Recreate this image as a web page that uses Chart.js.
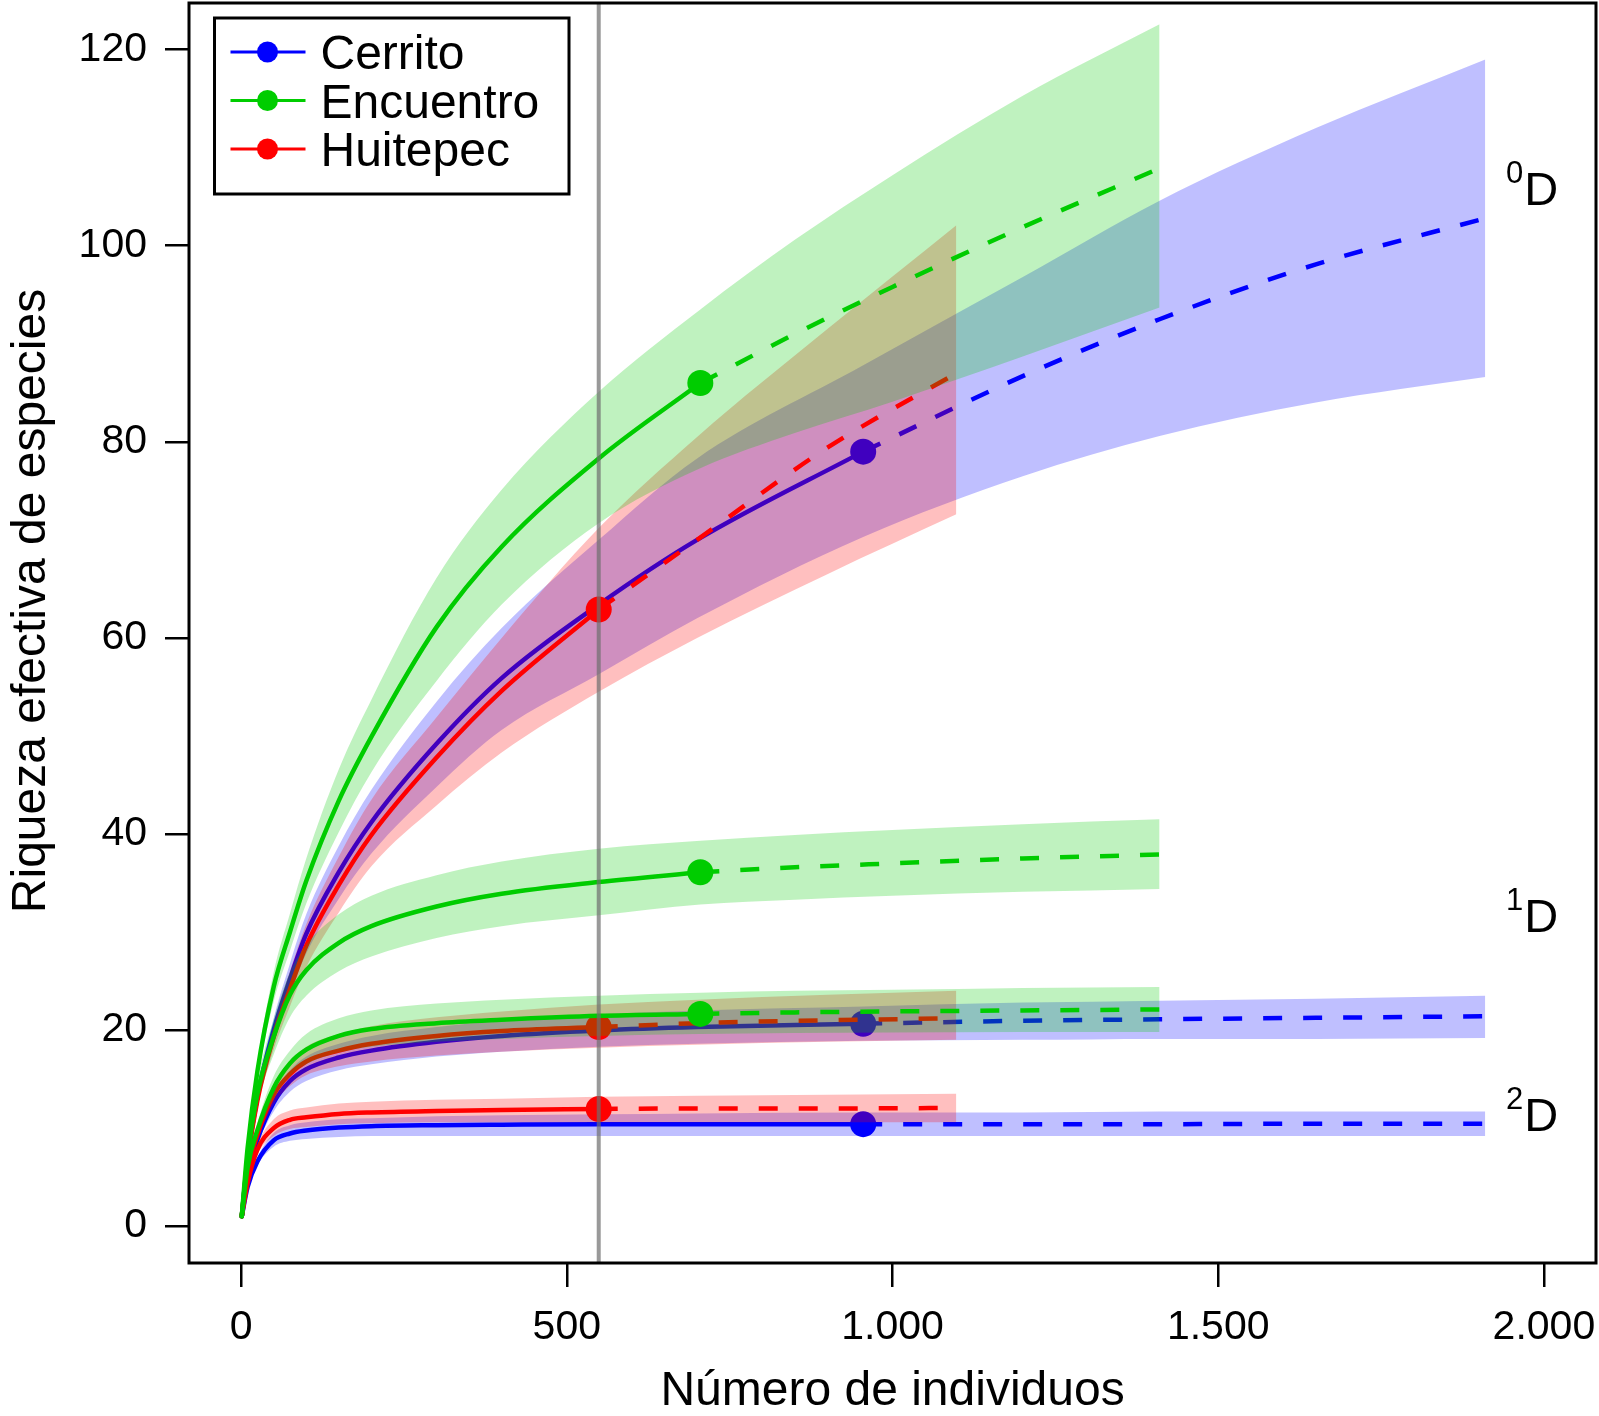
<!DOCTYPE html>
<html>
<head>
<meta charset="utf-8">
<title>Riqueza efectiva de especies</title>
<script src="https://cdn.jsdelivr.net/npm/chart.js@4.4.1/dist/chart.umd.min.js"></script>
<style>
  html, body { margin: 0; padding: 0; background: #fff; }
  canvas { display: block; }
</style>
</head>
<body>
<canvas id="curvas" width="1599" height="1416"></canvas>
<script>
// axis ticks
const xTicks = [0, 500, 1000, 1500, 2000];
const yTicks = [0, 20, 40, 60, 80, 100, 120];

// sites
const siteNames = ['Cerrito', 'Encuentro', 'Huitepec'];
const siteColors = ['#0000FF', '#00CD00', '#FF0000'];
const siteFills = ['rgba(0,0,255,0.25)', 'rgba(0,205,0,0.25)', 'rgba(255,0,0,0.25)'];

// observed sample sizes
const cerritoN = 955;
const encuentroN = 705;
const huitepecN = 549;

// Cerrito: rarefaction up to n, extrapolation to 2n
const cerritoX    = [1, 10, 25, 50, 75, 100, 150, 200, 300, 400, 549, 700, 955, 1200, 1410, 1650, 1910];
const cerritoQ0   = [1, 6.8, 13.2, 20.0, 25.2, 29.8, 36.1, 41.2, 49.2, 55.9, 63.4, 70.0, 79.0, 86.7, 92.5, 98.1, 102.8];
const cerritoQ0Lo = [1, 6.5, 12.5, 18.8, 23.6, 27.8, 33.4, 38.0, 44.8, 50.6, 56.3, 62.0, 70.3, 76.5, 80.6, 84.0, 86.6];
const cerritoQ0Hi = [1, 7.1, 13.9, 21.2, 26.8, 31.8, 38.8, 44.5, 53.5, 61.0, 70.0, 78.3, 87.8, 96.8, 104.6, 112.0, 119.0];
const cerritoQ1   = [1, 5.2, 8.8, 12.6, 14.8, 16.0, 17.2, 17.9, 18.8, 19.4, 19.95, 20.3, 20.65, 20.95, 21.1, 21.25, 21.4];
const cerritoQ1Lo = [1, 4.9, 8.3, 11.7, 13.7, 14.8, 15.9, 16.5, 17.3, 17.8, 18.3, 18.6, 18.9, 19.0, 19.1, 19.1, 19.2];
const cerritoQ1Hi = [1, 5.5, 9.3, 13.6, 15.9, 17.3, 18.6, 19.4, 20.3, 21.0, 21.6, 22.0, 22.4, 22.8, 23.0, 23.2, 23.5];
const cerritoQ2   = [1, 4.0, 6.6, 8.75, 9.45, 9.75, 10.05, 10.2, 10.3, 10.35, 10.4, 10.4, 10.4, 10.4, 10.4, 10.45, 10.45];
const cerritoQ2Lo = [1, 3.8, 6.2, 8.1, 8.7, 8.9, 9.1, 9.2, 9.2, 9.2, 9.2, 9.2, 9.2, 9.2, 9.2, 9.2, 9.2];
const cerritoQ2Hi = [1, 4.2, 7.0, 9.5, 10.3, 10.6, 10.9, 11.0, 11.2, 11.3, 11.4, 11.5, 11.6, 11.6, 11.7, 11.7, 11.7];

// Encuentro
const encuentroX    = [1, 10, 25, 50, 75, 100, 150, 200, 300, 400, 549, 705, 850, 1000, 1200, 1410];
const encuentroQ0   = [1, 8.0, 15.8, 24.4, 30.0, 35.2, 43.4, 49.9, 61.1, 69.3, 78.3, 86.0, 91.0, 95.8, 101.9, 107.9];
const encuentroQ0Lo = [1, 7.7, 15.0, 22.9, 28.1, 32.9, 40.2, 46.3, 55.6, 63.4, 71.7, 77.3, 80.9, 84.1, 88.7, 93.7];
const encuentroQ0Hi = [1, 8.3, 16.6, 25.9, 31.9, 37.5, 46.6, 53.7, 66.1, 75.1, 85.1, 93.5, 100.6, 107.2, 115.3, 122.6];
const encuentroQ1   = [1, 7.0, 13.5, 19.3, 23.6, 26.1, 28.9, 30.6, 32.6, 33.9, 35.1, 36.1, 36.6, 37.0, 37.5, 37.9];
const encuentroQ1Lo = [1, 6.6, 12.4, 17.5, 21.3, 23.5, 26.0, 27.5, 29.4, 30.6, 31.7, 32.8, 33.3, 33.7, 34.1, 34.4];
const encuentroQ1Hi = [1, 7.4, 14.6, 21.1, 25.9, 28.7, 31.8, 33.7, 35.8, 37.2, 38.5, 39.3, 39.9, 40.4, 41.0, 41.5];
const encuentroQ2   = [1, 6.0, 9.8, 14.1, 16.6, 18.0, 19.4, 20.1, 20.7, 21.05, 21.45, 21.65, 21.8, 21.9, 22.0, 22.1];
const encuentroQ2Lo = [1, 5.7, 9.1, 13.0, 15.3, 16.5, 17.7, 18.3, 18.8, 19.1, 19.4, 19.6, 19.7, 19.75, 19.8, 19.8];
const encuentroQ2Hi = [1, 6.3, 10.5, 15.3, 17.9, 19.6, 21.2, 22.0, 22.7, 23.1, 23.5, 23.8, 24.0, 24.1, 24.3, 24.4];

// Huitepec
const huitepecX    = [1, 10, 25, 50, 75, 100, 150, 200, 300, 400, 549, 700, 900, 1098];
const huitepecQ0   = [1, 6.6, 12.8, 19.3, 24.2, 28.6, 34.8, 39.9, 47.8, 54.6, 62.9, 70.0, 79.4, 87.0];
const huitepecQ0Lo = [1, 6.4, 12.1, 18.0, 22.4, 26.4, 32.0, 36.7, 42.9, 48.3, 54.5, 60.0, 66.5, 72.6];
const huitepecQ0Hi = [1, 6.8, 13.5, 20.6, 26.0, 30.8, 37.7, 43.5, 51.9, 60.0, 71.2, 80.5, 91.5, 102.1];
const huitepecQ1   = [1, 5.6, 9.3, 13.4, 15.5, 16.8, 17.9, 18.6, 19.4, 19.9, 20.3, 20.7, 21.0, 21.2];
const huitepecQ1Lo = [1, 5.3, 8.7, 12.4, 14.3, 15.4, 16.3, 16.8, 17.4, 17.8, 18.2, 18.5, 18.8, 19.0];
const huitepecQ1Hi = [1, 5.9, 9.9, 14.5, 16.8, 18.3, 19.6, 20.4, 21.3, 21.9, 22.6, 23.1, 23.6, 24.0];
const huitepecQ2   = [1, 4.4, 7.8, 10.0, 10.85, 11.1, 11.45, 11.6, 11.75, 11.85, 11.95, 12.0, 12.0, 12.05];
const huitepecQ2Lo = [1, 4.2, 7.3, 9.2, 9.9, 10.1, 10.4, 10.5, 10.6, 10.6, 10.6, 10.6, 10.6, 10.6];
const huitepecQ2Hi = [1, 4.6, 8.3, 10.9, 11.8, 12.1, 12.5, 12.7, 12.9, 13.0, 13.2, 13.3, 13.4, 13.5];

const fam = '"Liberation Sans", Arial, Helvetica, sans-serif';
const yMin = -3.76, yMax = 124.76;

function pts(xs, ys) { return xs.map((x, i) => ({ x: x, y: ys[i] })); }

let seq = 0;
function nextOrder() { seq += 1; return 1000 - seq; }

// one diversity order of one site: dashed extrapolation, solid rarefaction + observed point, CI band on top
function curveSets(site, k, xs, n, mean, lo, hi) {
  const color = siteColors[k];
  const all = pts(xs, mean);
  const rare = all.filter(p => p.x <= n);
  const ext = all.filter(p => p.x >= n);
  return [
    { label: site + ' extrapolado', data: ext, borderColor: color, borderWidth: 4.5, borderDash: [19, 21],
      pointRadius: 0, cubicInterpolationMode: 'monotone', fill: false, order: nextOrder() },
    { label: site, data: rare, borderColor: color, borderWidth: 4.5, borderCapStyle: 'round',
      pointRadius: rare.map((p, i) => i === rare.length - 1 ? 13 : 0),
      pointBackgroundColor: color, pointBorderColor: color, pointBorderWidth: 0,
      cubicInterpolationMode: 'monotone', fill: false, order: nextOrder() },
    { label: site + ' IC inf', data: pts(xs, lo), borderColor: 'rgba(0,0,0,0)', borderWidth: 0,
      pointRadius: 0, cubicInterpolationMode: 'monotone', fill: false, order: nextOrder() },
    { label: site + ' IC sup', data: pts(xs, hi), borderColor: 'rgba(0,0,0,0)', borderWidth: 0,
      pointRadius: 0, cubicInterpolationMode: 'monotone', fill: '-1', backgroundColor: siteFills[k], order: nextOrder() }
  ];
}

const datasets = [].concat(
  curveSets('Cerrito', 0, cerritoX, cerritoN, cerritoQ0, cerritoQ0Lo, cerritoQ0Hi),
  curveSets('Cerrito', 0, cerritoX, cerritoN, cerritoQ1, cerritoQ1Lo, cerritoQ1Hi),
  curveSets('Cerrito', 0, cerritoX, cerritoN, cerritoQ2, cerritoQ2Lo, cerritoQ2Hi),
  curveSets('Huitepec', 2, huitepecX, huitepecN, huitepecQ0, huitepecQ0Lo, huitepecQ0Hi),
  curveSets('Huitepec', 2, huitepecX, huitepecN, huitepecQ1, huitepecQ1Lo, huitepecQ1Hi),
  curveSets('Huitepec', 2, huitepecX, huitepecN, huitepecQ2, huitepecQ2Lo, huitepecQ2Hi),
  curveSets('Encuentro', 1, encuentroX, encuentroN, encuentroQ0, encuentroQ0Lo, encuentroQ0Hi),
  curveSets('Encuentro', 1, encuentroX, encuentroN, encuentroQ1, encuentroQ1Lo, encuentroQ1Hi),
  curveSets('Encuentro', 1, encuentroX, encuentroN, encuentroQ2, encuentroQ2Lo, encuentroQ2Hi)
);

// reference line at the smallest sample size
datasets.push({
  label: 'n min', data: [{ x: huitepecN, y: yMin }, { x: huitepecN, y: yMax }],
  borderColor: 'rgba(110,110,110,0.7)', borderWidth: 4, pointRadius: 0, fill: false, order: 0
});

function fmt(v) { return String(v).replace(/\B(?=(\d{3})+(?!\d))/g, '.'); }

// box, axis titles, order labels and legend
const decor = {
  id: 'decor',
  afterDraw(chart, args, opts) {
    const { ctx, chartArea: a, scales: { x, y } } = chart;
    ctx.save();
    ctx.strokeStyle = '#000';
    ctx.lineWidth = 3;
    ctx.strokeRect(a.left, a.top, a.right - a.left, a.bottom - a.top);

    ctx.fillStyle = '#000';
    ctx.font = '48px ' + fam;
    ctx.textAlign = 'center';
    ctx.textBaseline = 'alphabetic';
    ctx.fillText('Número de individuos', (a.left + a.right) / 2, 1405);
    ctx.save();
    ctx.translate(45, 601);
    ctx.rotate(-Math.PI / 2);
    ctx.fillText('Riqueza efectiva de especies', 0, 0);
    ctx.restore();

    opts.orderLabels.forEach(l => {
      const px = x.getPixelForValue(l.x), py = y.getPixelForValue(l.y);
      ctx.textAlign = 'left';
      ctx.font = '47px ' + fam;
      ctx.fillText('D', px, py);
      ctx.textAlign = 'right';
      ctx.font = '31px ' + fam;
      ctx.fillText(l.sup, px - 1, py - 22);
    });

    const lg = opts.legend;
    ctx.lineWidth = 3;
    ctx.strokeRect(lg.left, lg.top, lg.width, lg.height);
    siteNames.forEach((name, i) => {
      const ry = lg.top + lg.firstRow + i * lg.rowGap;
      ctx.strokeStyle = siteColors[i];
      ctx.lineWidth = 3;
      ctx.beginPath();
      ctx.moveTo(lg.left + 16, ry);
      ctx.lineTo(lg.left + 91, ry);
      ctx.stroke();
      ctx.fillStyle = siteColors[i];
      ctx.beginPath();
      ctx.arc(lg.left + 53, ry, 10.5, 0, Math.PI * 2);
      ctx.fill();
      ctx.fillStyle = '#000';
      ctx.font = '48px ' + fam;
      ctx.textAlign = 'left';
      ctx.fillText(name, lg.left + 106, ry + 17);
    });
    ctx.restore();
  }
};

new Chart(document.getElementById('curvas'), {
  type: 'line',
  data: { datasets: datasets },
  plugins: [decor],
  options: {
    responsive: false,
    devicePixelRatio: 1,
    animation: false,
    events: [],
    layout: { autoPadding: false, padding: { top: 3, right: 3, left: 0, bottom: 0 } },
    plugins: {
      legend: { display: false },
      tooltip: { enabled: false },
      filler: { propagate: false },
      decor: {
        orderLabels: [
          { sup: '0', x: 1970, y: 104.2 },
          { sup: '1', x: 1970, y: 30.05 },
          { sup: '2', x: 1970, y: 9.74 }
        ],
        legend: { left: 214.5, top: 18, width: 354.5, height: 176, firstRow: 34, rowGap: 48.5 }
      }
    },
    scales: {
      x: {
        type: 'linear', min: -80, max: 2080,
        afterBuildTicks: s => { s.ticks = xTicks.map(v => ({ value: v })); },
        afterFit: s => { s.height = 153; s.paddingLeft = 0; s.paddingRight = 0; },
        grid: { drawOnChartArea: false, drawTicks: true, tickLength: 24, color: '#000', lineWidth: 2.5 },
        border: { display: false },
        ticks: { color: '#000', font: { family: fam, size: 41 }, padding: 16, maxRotation: 0, autoSkip: false,
                 callback: v => fmt(v) }
      },
      y: {
        type: 'linear', min: yMin, max: yMax,
        afterBuildTicks: s => { s.ticks = yTicks.map(v => ({ value: v })); },
        afterFit: s => { s.width = 189; s.paddingTop = 0; s.paddingBottom = 0; },
        grid: { drawOnChartArea: false, drawTicks: true, tickLength: 24, color: '#000', lineWidth: 2.5 },
        border: { display: false },
        ticks: { color: '#000', font: { family: fam, size: 41 }, padding: 18, autoSkip: false,
                 callback: v => String(v) }
      }
    }
  }
});
</script>
</body>
</html>
